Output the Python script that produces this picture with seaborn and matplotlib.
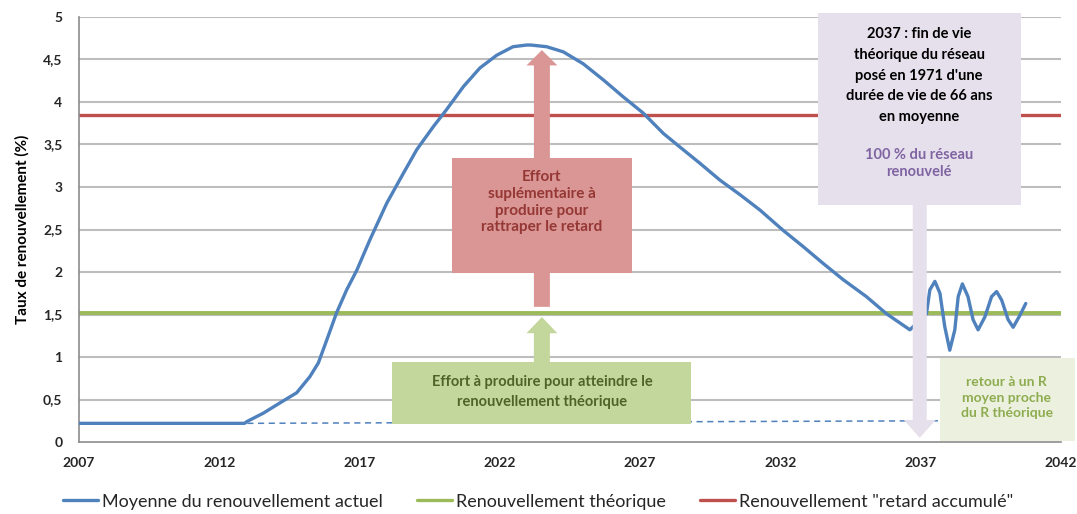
import numpy as np
import pandas as pd
import matplotlib.pyplot as plt
import seaborn as sns
from matplotlib.patches import Rectangle, FancyArrow
from matplotlib.lines import Line2D

# courbe "moyenne du renouvellement actuel"
annees = [2007, 2012.9, 2012.98, 2013.57, 2014.16, 2014.76, 2015.23, 2015.53, 2015.83,
          2016.18, 2016.54, 2016.9, 2017.37, 2017.97, 2018.56, 2019.04, 2019.63,
          2020.1, 2020.7, 2021.29, 2021.89, 2022.47, 2022.96, 2023.1, 2023.67,
          2024.26, 2024.97, 2025.69, 2026.4, 2027.11, 2027.83, 2028.42, 2029.13,
          2029.85, 2030.56, 2031.27, 2032.1, 2032.81, 2033.53, 2034.24, 2035.07,
          2035.78, 2036.62,
          2037.21, 2037.33, 2037.51, 2037.69, 2037.86, 2038.04, 2038.22, 2038.34,
          2038.49, 2038.69, 2038.87, 2039.05, 2039.29, 2039.53, 2039.71, 2039.89,
          2040.12, 2040.3, 2040.54, 2040.75]
taux = [0.22, 0.22, 0.24, 0.34, 0.46, 0.58, 0.77, 0.93, 1.2,
        1.52, 1.79, 2.02, 2.38, 2.81, 3.16, 3.44, 3.71,
        3.91, 4.18, 4.4, 4.55, 4.65, 4.67, 4.67, 4.65,
        4.59, 4.45, 4.26, 4.06, 3.87, 3.63, 3.47, 3.28,
        3.08, 2.91, 2.73, 2.49, 2.3, 2.1, 1.91, 1.71,
        1.51, 1.32,
        1.51, 1.79, 1.89, 1.75, 1.36, 1.08, 1.32, 1.71,
        1.86, 1.71, 1.44, 1.32, 1.47, 1.71, 1.77, 1.67,
        1.44, 1.35, 1.49, 1.63]

# prolongation en pointillés du niveau actuel
annees_tirets = [2013, 2037.7]
taux_tirets = [0.22, 0.25]

r_theorique = 1.52
r_retard = 3.85

x_ticks = [2007, 2012, 2017, 2022, 2027, 2032, 2037, 2042]
y_ticks = [0, 0.5, 1, 1.5, 2, 2.5, 3, 3.5, 4, 4.5, 5]
y_labels = ['0', '0,5', '1', '1,5', '2', '2,5', '3', '3,5', '4', '4,5', '5']

bleu = '#4f81bd'
vert = '#9bbb59'
rouge = '#c0504d'

df = pd.DataFrame({'annee': annees, 'taux': taux})
dft = pd.DataFrame({'annee': annees_tirets, 'taux': taux_tirets})

sns.set_theme(style="white")
plt.rcParams['font.family'] = ['Lato', 'DejaVu Sans']

fig = plt.figure(figsize=(10.77, 5.14), dpi=100)
ax = fig.add_axes([0.0734, 0.140, 0.9116, 0.827])

# grille
for yv in y_ticks[1:]:
    ax.axhline(yv, color='#bdbdbd', lw=1.5, zorder=1)

ax.axhline(r_theorique, color=vert, lw=2.8, zorder=2)
ax.axhline(r_retard, color=rouge, lw=2.4, zorder=2)

sns.lineplot(data=dft, x='annee', y='taux', ax=ax, color=bleu, lw=1.1,
             linestyle=(0, (4, 3)), zorder=2, estimator=None)
sns.lineplot(data=df, x='annee', y='taux', ax=ax, color=bleu, lw=2.4,
             zorder=4, estimator=None, sort=False)

# flèche rouge + encadré
ax.add_patch(FancyArrow(2023.5, 1.59, 0, 4.61 - 1.59, width=0.57, head_width=1.1,
                        head_length=0.18, length_includes_head=True,
                        color='#d99694', lw=0, zorder=3))
ax.add_patch(Rectangle((2020.29, 1.99), 6.42, 1.35, color='#d99694', lw=0, zorder=3))
ax.text(2023.5, 2.82, "Effort\nsuplémentaire à\nproduire pour\nrattraper le retard",
        ha='center', va='center', fontsize=11, fontweight='bold', color='#953735',
        linespacing=1.25, zorder=6)

# flèche verte + encadré
ax.add_patch(FancyArrow(2023.5, 0.94, 0, 1.47 - 0.94, width=0.57, head_width=1.1,
                        head_length=0.19, length_includes_head=True,
                        color='#c3d69b', lw=0, zorder=3))
ax.add_patch(Rectangle((2018.16, 0.21), 10.65, 0.73, color='#c3d69b', lw=0, zorder=3))
ax.text(2023.5, 0.59, "Effort à produire pour atteindre le\nrenouvellement théorique",
        ha='center', va='center', fontsize=10.5, fontweight='bold', color='#4f6228',
        linespacing=1.55, zorder=6)

# encadré violet 2037
ax.add_patch(Rectangle((2033.34, 2.79), 7.23, 2.26, color='#e5e0ec', lw=0,
                       zorder=5, clip_on=False))
ax.add_patch(FancyArrow(2036.97, 2.79, 0, 0.05 - 2.79, width=0.5, head_width=1.14,
                        head_length=0.21, length_includes_head=True,
                        color='#e5e0ec', lw=0, zorder=5))
ax.text(2036.95, 4.31, "2037 : fin de vie\nthéorique du réseau\nposé en 1971 d'une\n"
        "durée de vie de 66 ans\nen moyenne",
        ha='center', va='center', fontsize=10.5, fontweight='bold', color='black',
        linespacing=1.6, zorder=6)
ax.text(2036.95, 3.28, "100 % du réseau\nrenouvelé", ha='center', va='center',
        fontsize=10.5, fontweight='bold', color='#8064a2', linespacing=1.3, zorder=6)

# encadré vert clair
ax.add_patch(Rectangle((2037.69, 0.01), 4.81, 0.98, color='#ebf1de', lw=0,
                       zorder=5, clip_on=False))
ax.text(2040.07, 0.52, "retour à un R\nmoyen proche\ndu R théorique", ha='center',
        va='center', fontsize=10, fontweight='bold', color='#8eac4f',
        linespacing=1.35, zorder=6, clip_on=False)

ax.set_xlim(2007, 2042)
ax.set_ylim(0, 5)
ax.set_xticks(x_ticks)
ax.set_xticklabels([str(x) for x in x_ticks])
ax.set_yticks(y_ticks)
ax.set_yticklabels(y_labels)
ax.tick_params(axis='both', length=0, labelsize=10, labelcolor='#262626')
ax.tick_params(axis='x', pad=11)
ax.tick_params(axis='y', pad=12)
for lab in ax.get_xticklabels() + ax.get_yticklabels():
    lab.set_fontweight('bold')

ax.set_xlabel('')
ax.set_ylabel('Taux de renouvellement (%)', fontsize=11, fontweight='bold',
              color='black', labelpad=10)

for s in ['top', 'right']:
    ax.spines[s].set_visible(False)
for s in ['left', 'bottom']:
    ax.spines[s].set_color('#8c8c8c')
    ax.spines[s].set_linewidth(1.2)

handles = [Line2D([], [], color=bleu, lw=2.4),
           Line2D([], [], color=vert, lw=2.4),
           Line2D([], [], color=rouge, lw=2.4)]
fig.legend(handles, ['Moyenne du renouvellement actuel', 'Renouvellement théorique',
                     'Renouvellement "retard accumulé"'],
           loc='center', bbox_to_anchor=(0.5, 0.024), ncol=3, frameon=False,
           fontsize=13, handlelength=1.9, handletextpad=0.25, columnspacing=1.9,
           borderpad=0.1)

fig.savefig('out.png', dpi=100)
